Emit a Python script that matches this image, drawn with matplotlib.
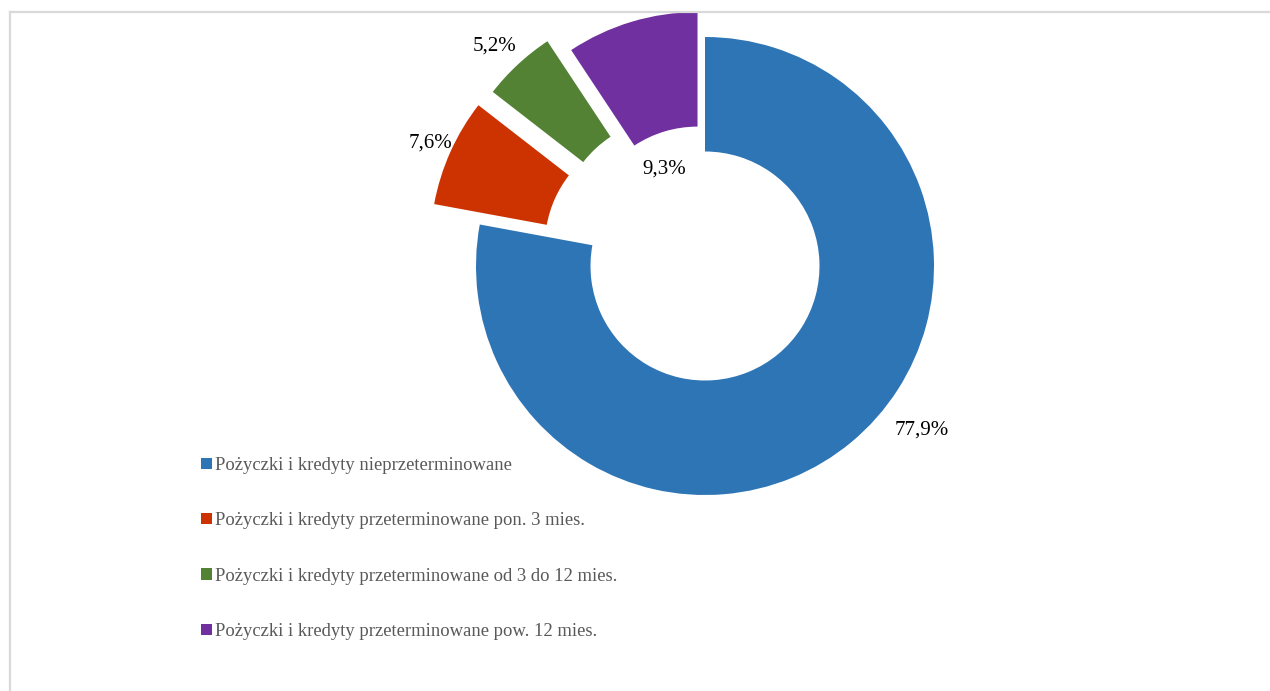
import matplotlib
matplotlib.use("Agg")
import matplotlib.pyplot as plt
from matplotlib.patches import Patch
from matplotlib.lines import Line2D

categories = [
    "Pożyczki i kredyty nieprzeterminowane",
    "Pożyczki i kredyty przeterminowane pon. 3 mies.",
    "Pożyczki i kredyty przeterminowane od 3 do 12 mies.",
    "Pożyczki i kredyty przeterminowane pow. 12 mies.",
]
values = [77.9, 7.6, 5.2, 9.3]
colors = ["#2E75B6", "#CC3300", "#548235", "#7030A0"]
explode_px = [0, 50, 46, 26]
label_pos = [(922, 430), (430, 143), (495, 46), (664, 169)]

W, H = 1270, 691
fig = plt.figure(figsize=(W / 100, H / 100), dpi=100)
ax = fig.add_axes([0, 0, 1, 1])

R = 229
cx, cy = 705, H - 266
ax.pie(values, colors=colors, startangle=90, counterclock=False,
       radius=R, center=(cx, cy), explode=explode_px,
       wedgeprops=dict(width=R * 0.5, linewidth=0), frame=True)
ax.set_xlim(0, W)
ax.set_ylim(0, H)
ax.set_aspect("auto")
ax.axis("off")

for v, (px, py) in zip(values, label_pos):
    ax.text(px, H - py, f"{v:.1f}%".replace(".", ","), ha="center", va="center",
            fontsize=15, family="Liberation Serif", color="#000000")

# chart area frame (left and top edges visible)
x0, y0 = 9.5 / W, 1 - 11.5 / H
fig.add_artist(Line2D([x0, x0], [0, y0], transform=fig.transFigure,
                      color="#D9D9D9", linewidth=1.6))
fig.add_artist(Line2D([x0, 1], [y0, y0], transform=fig.transFigure,
                      color="#D9D9D9", linewidth=1.6))

handles = [Patch(facecolor=c, edgecolor="none") for c in colors]
leg = ax.legend(handles, categories, loc="upper left",
                bbox_to_anchor=(192, H - 448), bbox_transform=ax.transData,
                frameon=False, handlelength=0.55, handleheight=0.55,
                handletextpad=0.2, labelspacing=2.05, borderpad=0,
                prop=dict(family="Liberation Serif", size=13.4))
for t in leg.get_texts():
    t.set_color("#595959")

fig.savefig("out.png", dpi=100)
